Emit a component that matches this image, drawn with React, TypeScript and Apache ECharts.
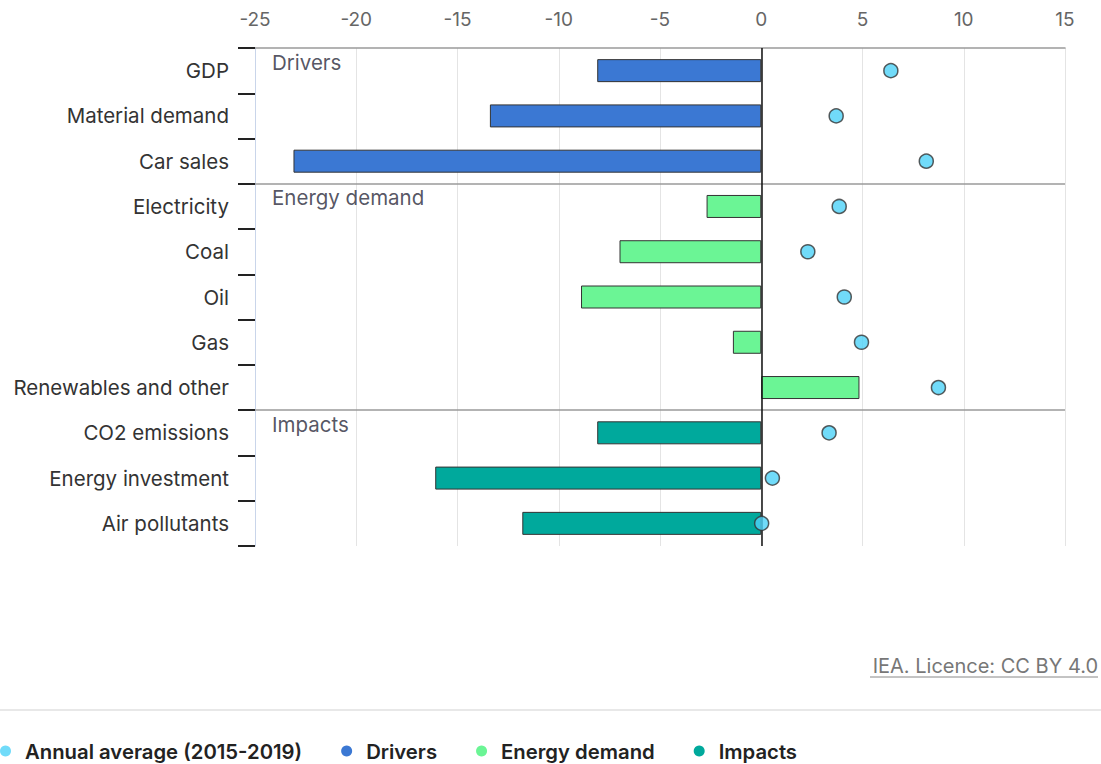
import React, { useEffect, useRef } from "react";
import * as echarts from "echarts";

const categories = [
  "GDP",
  "Material demand",
  "Car sales",
  "Electricity",
  "Coal",
  "Oil",
  "Gas",
  "Renewables and other",
  "CO2 emissions",
  "Energy investment",
  "Air pollutants",
];
const drivers = [-8.1, -13.4, -23.1, null, null, null, null, null, null, null, null];
const energyDemand = [null, null, null, -2.7, -7.0, -8.9, -1.4, 4.85, null, null, null];
const impacts = [null, null, null, null, null, null, null, null, -8.1, -16.1, -11.8];
const annualAverage = [6.4, 3.7, 8.15, 3.85, 2.3, 4.1, 4.95, 8.75, 3.35, 0.55, 0.02];
const groupLabels = ["Drivers", "Energy demand", "Impacts"];
const groupStarts = [0, 3, 8];
const xMin = -25;
const xMax = 15;
const xInterval = 5;

const FONT = "Inter, 'Noto Sans', sans-serif";

export default function App() {
  const ref = useRef<HTMLDivElement>(null);
  useEffect(() => {
    if (!ref.current) return;
    const chart = echarts.init(ref.current, undefined, { renderer: "svg" });
    const barBase = {
      type: "bar",
      stack: "all",
      barWidth: 23,
      xAxisIndex: 0,
      yAxisIndex: 0,
      itemStyle: { borderColor: "#333", borderWidth: 1 },
    };
    chart.setOption({
      animation: false,
      textStyle: { fontFamily: FONT },
      grid: { left: 255, right: 36, top: 48, bottom: 218 },
      xAxis: {
        type: "value",
        position: "top",
        min: xMin,
        max: xMax,
        interval: xInterval,
        axisLine: { show: true, lineStyle: { color: "#9a9a9a", width: 1.5 } },
        axisTick: { show: false },
        axisLabel: { color: "#666", fontSize: 19, margin: 19, fontFamily: FONT },
        splitLine: { show: true, lineStyle: { color: "#e4e4e4", width: 1 } },
      },
      yAxis: [
        {
          type: "category",
          data: categories,
          inverse: true,
          axisLine: { show: true, onZero: false, lineStyle: { color: "#c9d5ea", width: 1 } },
          axisTick: { show: true, length: 17, lineStyle: { color: "#222", width: 2 } },
          axisLabel: { color: "#333", fontSize: 20.5, margin: 26, fontFamily: FONT },
          splitLine: { show: false },
        },
        {
          type: "value",
          inverse: true,
          min: 0,
          max: categories.length,
          show: false,
        },
      ],
      legend: {
        left: -5,
        bottom: -2,
        itemWidth: 11,
        itemHeight: 11,
        itemGap: 39,
        icon: "circle",
        itemStyle: { borderWidth: 0 },
        textStyle: {
          color: "#222",
          fontSize: 20.3,
          fontWeight: 600,
          fontFamily: FONT,
          padding: [0, 0, 0, 9],
        },
        data: ["Annual average (2015-2019)", "Drivers", "Energy demand", "Impacts"],
      },
      graphic: [
        {
          type: "line",
          shape: { x1: 0, y1: 710, x2: 1101, y2: 710 },
          style: { stroke: "#e8e8e8", lineWidth: 2 },
        },
        {
          type: "text",
          right: 3,
          top: 656,
          style: {
            text: "IEA. Licence: CC BY 4.0",
            fill: "#777",
            fontSize: 20,
            fontFamily: FONT,
          },
        },
        {
          type: "line",
          shape: { x1: 870, y1: 677, x2: 1098, y2: 677 },
          style: { stroke: "#888", lineWidth: 1 },
        },
      ],
      series: [
        { ...barBase, name: "Drivers", data: drivers, itemStyle: { ...barBase.itemStyle, color: "#3b78d3" } },
        { ...barBase, name: "Energy demand", data: energyDemand, itemStyle: { ...barBase.itemStyle, color: "#6bf595" } },
        { ...barBase, name: "Impacts", data: impacts, itemStyle: { ...barBase.itemStyle, color: "#00a99c" } },
        {
          type: "scatter",
          name: "Annual average (2015-2019)",
          xAxisIndex: 0,
          yAxisIndex: 0,
          data: annualAverage,
          symbolSize: 14,
          z: 5,
          itemStyle: { color: "#4dd2f7", borderColor: "#333", borderWidth: 1.5 },
        },
        {
          type: "scatter",
          name: "groups",
          xAxisIndex: 0,
          yAxisIndex: 1,
          symbolSize: 0,
          silent: true,
          data: groupStarts.map((s) => [xMin, s]),
          label: {
            show: true,
            position: "right",
            distance: 17,
            offset: [0, 14],
            color: "#2a2a3a",
            fontSize: 20.5,
            fontFamily: FONT,
            formatter: (p: any) => groupLabels[p.dataIndex],
          },
          markLine: {
            silent: true,
            symbol: "none",
            label: { show: false },
            data: [
              { yAxis: groupStarts[1], lineStyle: { color: "#9a9a9a", width: 1.5, type: "solid" } },
              { yAxis: groupStarts[2], lineStyle: { color: "#9a9a9a", width: 1.5, type: "solid" } },
              { xAxis: 0, lineStyle: { color: "#111", width: 1.5, type: "solid" } },
            ],
          },
        },
      ],
    });
    return () => chart.dispose();
  }, []);
  return (
    <div
      ref={ref}
      style={{ position: "absolute", left: 0, top: 0, width: 1101, height: 764 }}
    />
  );
}
